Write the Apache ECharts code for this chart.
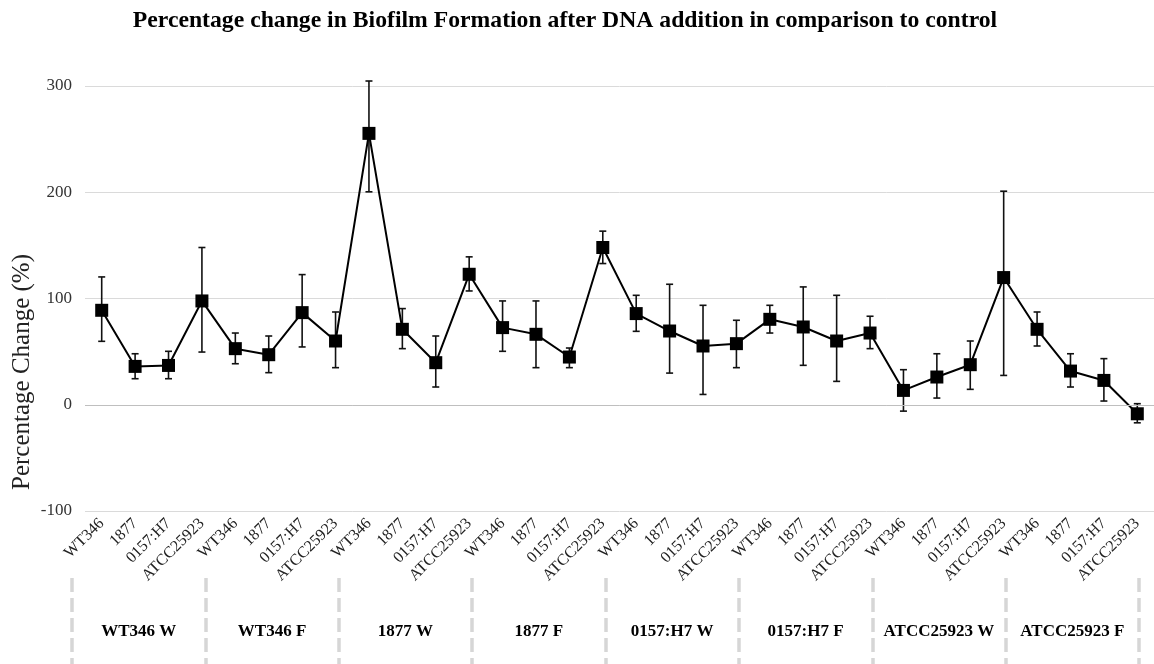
<!DOCTYPE html>
<html>
<head>
<meta charset="utf-8">
<script src="https://cdn.jsdelivr.net/npm/echarts@6/dist/echarts.min.js"></script>
<style>html,body{margin:0;padding:0;background:#fff}#c{width:1154px;height:664px}</style>
</head>
<body>
<div id="c"></div>
<script>
// ---- data ----
const strains = ['WT346', '1877', '0157:H7', 'ATCC25923'];
const groups = ['WT346 W', 'WT346 F', '1877 W', '1877 F', '0157:H7 W', '0157:H7 F', 'ATCC25923 W', 'ATCC25923 F'];
const means = [88.9, 36.1, 37.0, 97.7, 52.8, 47.1, 86.7, 60.0, 255.4, 71.0, 39.6, 122.8, 72.6, 66.3, 44.9, 148.0,
               85.8, 69.4, 55.3, 57.5, 80.4, 73.2, 60.0, 67.5, 13.5, 26.1, 37.7, 119.7, 71.0, 31.7, 22.9, -8.5];
const upper = [120.3, 48.0, 50.3, 148.0, 67.5, 64.7, 122.5, 87.3, 304.7, 90.5, 64.7, 139.2, 97.7, 97.7, 53.4, 163.4,
               103.0, 113.4, 93.6, 79.5, 93.6, 110.9, 103.0, 83.3, 33.0, 48.0, 60.0, 201.0, 87.3, 48.0, 43.4, 1.0];
const lower = [59.7, 24.5, 24.5, 49.6, 38.6, 30.2, 54.4, 34.9, 200.4, 52.8, 16.7, 107.1, 50.3, 34.9, 34.9, 132.9,
               69.1, 29.8, 9.7, 34.9, 67.5, 37.1, 22.0, 52.8, -6.0, 6.3, 14.5, 27.6, 55.3, 16.7, 3.5, -17.0];
const yTicks = { min: -100, max: 300, interval: 100 };
const titleText = 'Percentage change in Biofilm Formation after DNA addition in comparison to control';
const yName = 'Percentage Change (%)';

// ---- build ----
const categories = [];
groups.forEach(() => strains.forEach(s => categories.push(s)));
const errData = means.map((m, i) => [i, upper[i], lower[i]]);
const serif = '"Liberation Serif", "Times New Roman", serif';

const chart = echarts.init(document.getElementById('c'));
chart.setOption({
  animation: false,
  backgroundColor: '#fff',
  graphic: [
    { type: 'text', x: 565, y: 21, style: { text: titleText, font: 'bold 23.7px ' + serif, fill: '#000', align: 'center', verticalAlign: 'middle', textAlign: 'center', textVerticalAlign: 'middle' } },
    { type: 'text', x: 22, y: 372, rotation: Math.PI / 2, style: { text: yName, font: '25px ' + serif, fill: '#222', align: 'center', verticalAlign: 'middle', textAlign: 'center', textVerticalAlign: 'middle' } }
  ],
  grid: [
    { left: 85, right: -4, top: 86, bottom: 153, containLabel: false },
    { left: 72, right: 15, top: 560, bottom: 86, containLabel: false }
  ],
  xAxis: [
    {
      type: 'category', gridIndex: 0, data: categories, boundaryGap: true,
      axisLine: { show: false }, axisTick: { show: false },
      axisLabel: { interval: 0, rotate: 45, margin: 10, fontFamily: serif, fontSize: 16, color: '#222' }
    },
    {
      type: 'category', gridIndex: 1, data: groups, boundaryGap: true, position: 'bottom',
      axisLine: { show: false },
      axisTick: { show: true, interval: 0, length: 90, lineStyle: { color: '#d6d6d6', width: 3.5, type: [14, 6] } },
      axisLabel: { interval: 0, margin: 45, fontFamily: serif, fontSize: 17, fontWeight: 'bold', color: '#000' }
    }
  ],
  yAxis: [
    {
      type: 'value', gridIndex: 0, min: yTicks.min, max: yTicks.max, interval: yTicks.interval,
      axisLine: { show: false }, axisTick: { show: false },
      axisLabel: { margin: 13, fontFamily: serif, fontSize: 17, color: '#333' },
      splitLine: { lineStyle: { color: '#dadada', width: 1 } }
    },
    { type: 'value', gridIndex: 1, show: false, splitLine: { show: false } }
  ],
  series: [
    {
      type: 'custom', xAxisIndex: 0, yAxisIndex: 0, data: errData, z: 2,
      renderItem: function (params, api) {
        const top = api.coord([api.value(0), api.value(1)]);
        const bot = api.coord([api.value(0), api.value(2)]);
        const hw = 3.5;
        const st = { stroke: '#111', lineWidth: 1.6 };
        return {
          type: 'group', children: [
            { type: 'line', shape: { x1: top[0], y1: top[1], x2: bot[0], y2: bot[1] }, style: st },
            { type: 'line', shape: { x1: top[0] - hw, y1: top[1], x2: top[0] + hw, y2: top[1] }, style: st },
            { type: 'line', shape: { x1: bot[0] - hw, y1: bot[1], x2: bot[0] + hw, y2: bot[1] }, style: st }
          ]
        };
      }
    },
    {
      type: 'line', xAxisIndex: 0, yAxisIndex: 0, data: means, z: 3,
      symbol: 'rect', symbolSize: 13, showSymbol: true,
      itemStyle: { color: '#000' }, lineStyle: { color: '#000', width: 2 },
      markLine: { silent: true, symbol: 'none', label: { show: false }, lineStyle: { color: '#bfbfbf', width: 1, type: 'solid' }, data: [{ yAxis: 0 }] }
    }
  ]
});
</script>
</body>
</html>
